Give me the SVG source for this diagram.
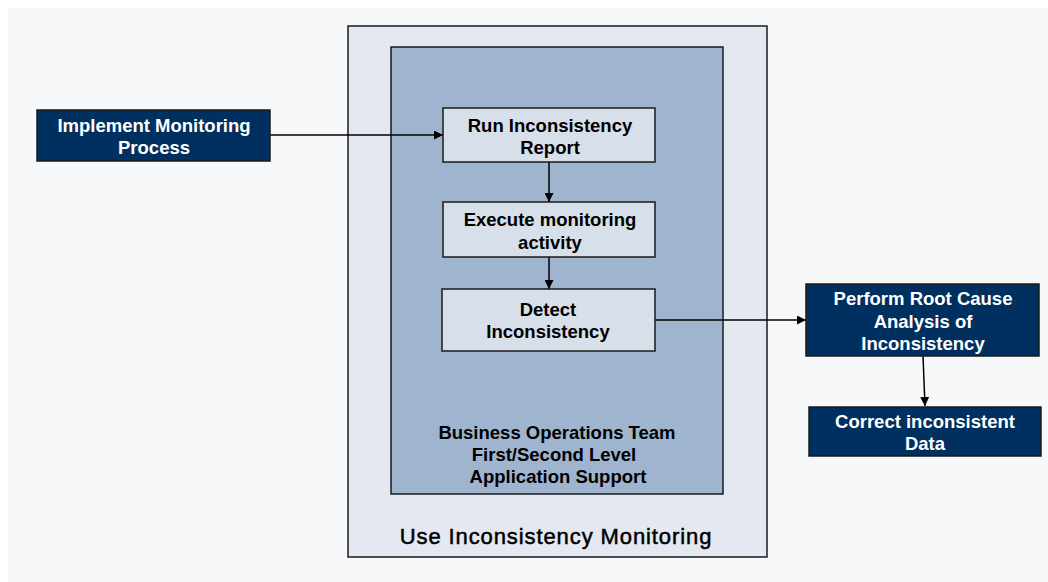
<svg xmlns="http://www.w3.org/2000/svg" width="1048" height="582" viewBox="0 0 1048 582">
  <style>
    .dark { fill: #00305f; stroke: #1a1a1a; stroke-width: 1.5; }
    .step { fill: #d6dfea; stroke: #1a1a1a; stroke-width: 1.5; }
    .lbl { font-family: "Liberation Sans", Arial, sans-serif; font-size: 18.5px; font-weight: bold; text-anchor: middle; dominant-baseline: central; }
    .wt { fill: #ffffff; }
    .bk { fill: #000000; }
    .conn { stroke: #000000; stroke-width: 1.5; fill: none; marker-end: url(#arr); }
  </style>
  <defs>
    <marker id="arr" viewBox="0 0 10 10" refX="10" refY="5" markerWidth="9" markerHeight="9" markerUnits="userSpaceOnUse" orient="auto">
      <path d="M0,0 L10,5 L0,10 z" fill="#000000"/>
    </marker>
  </defs>

  <rect x="0" y="0" width="1048" height="582" fill="#ffffff"/>
  <rect x="8" y="8" width="1040" height="574" fill="#f7f8fa"/>

  <!-- containers -->
  <g id="use-monitoring">
    <rect x="348" y="26" width="419" height="531" fill="#e4e9f1" stroke="#1a1a1a" stroke-width="1.5"/>
    <text x="556" y="536" font-family="Liberation Sans, Arial, sans-serif" font-size="22" letter-spacing="0.9" text-anchor="middle" dominant-baseline="central" fill="#000" stroke="#000" stroke-width="0.5">Use Inconsistency Monitoring</text>
  </g>
  <g id="business-ops">
    <rect x="391" y="47" width="332" height="447" fill="#9fb5cf" stroke="#1a1a1a" stroke-width="1.5"/>
    <text class="lbl bk" x="557" y="432">Business Operations Team</text>
    <text class="lbl bk" x="554" y="454">First/Second Level</text>
    <text class="lbl bk" x="558" y="476">Application Support</text>
  </g>

  <!-- connectors -->
  <g id="connectors">
    <line class="conn" x1="270" y1="135" x2="443" y2="135"/>
    <line class="conn" x1="549" y1="162" x2="549" y2="202"/>
    <line class="conn" x1="549" y1="257" x2="549" y2="289"/>
    <line class="conn" x1="655" y1="320" x2="806" y2="320"/>
    <line class="conn" x1="923" y1="356" x2="925" y2="406"/>
  </g>

  <g id="implement">
    <rect class="dark" x="37" y="110" width="233" height="51"/>
    <text class="lbl wt" x="154" y="125">Implement Monitoring</text>
    <text class="lbl wt" x="154" y="147">Process</text>
  </g>
  <g id="run-report">
    <rect class="step" x="443" y="108" width="212" height="54"/>
    <text class="lbl bk" x="550" y="125">Run Inconsistency</text>
    <text class="lbl bk" x="550" y="147">Report</text>
  </g>
  <g id="execute">
    <rect class="step" x="443" y="202" width="212" height="55"/>
    <text class="lbl bk" x="550" y="219">Execute monitoring</text>
    <text class="lbl bk" x="550" y="242">activity</text>
  </g>
  <g id="detect">
    <rect class="step" x="442" y="289" width="213" height="62"/>
    <text class="lbl bk" x="548" y="309">Detect</text>
    <text class="lbl bk" x="548" y="331">Inconsistency</text>
  </g>
  <g id="root-cause">
    <rect class="dark" x="806" y="284" width="233" height="72"/>
    <text class="lbl wt" x="923" y="298">Perform Root Cause</text>
    <text class="lbl wt" x="923" y="321">Analysis of</text>
    <text class="lbl wt" x="923" y="343">Inconsistency</text>
  </g>
  <g id="correct">
    <rect class="dark" x="809" y="407" width="232" height="49"/>
    <text class="lbl wt" x="925" y="421">Correct inconsistent</text>
    <text class="lbl wt" x="925" y="443">Data</text>
  </g>
</svg>
